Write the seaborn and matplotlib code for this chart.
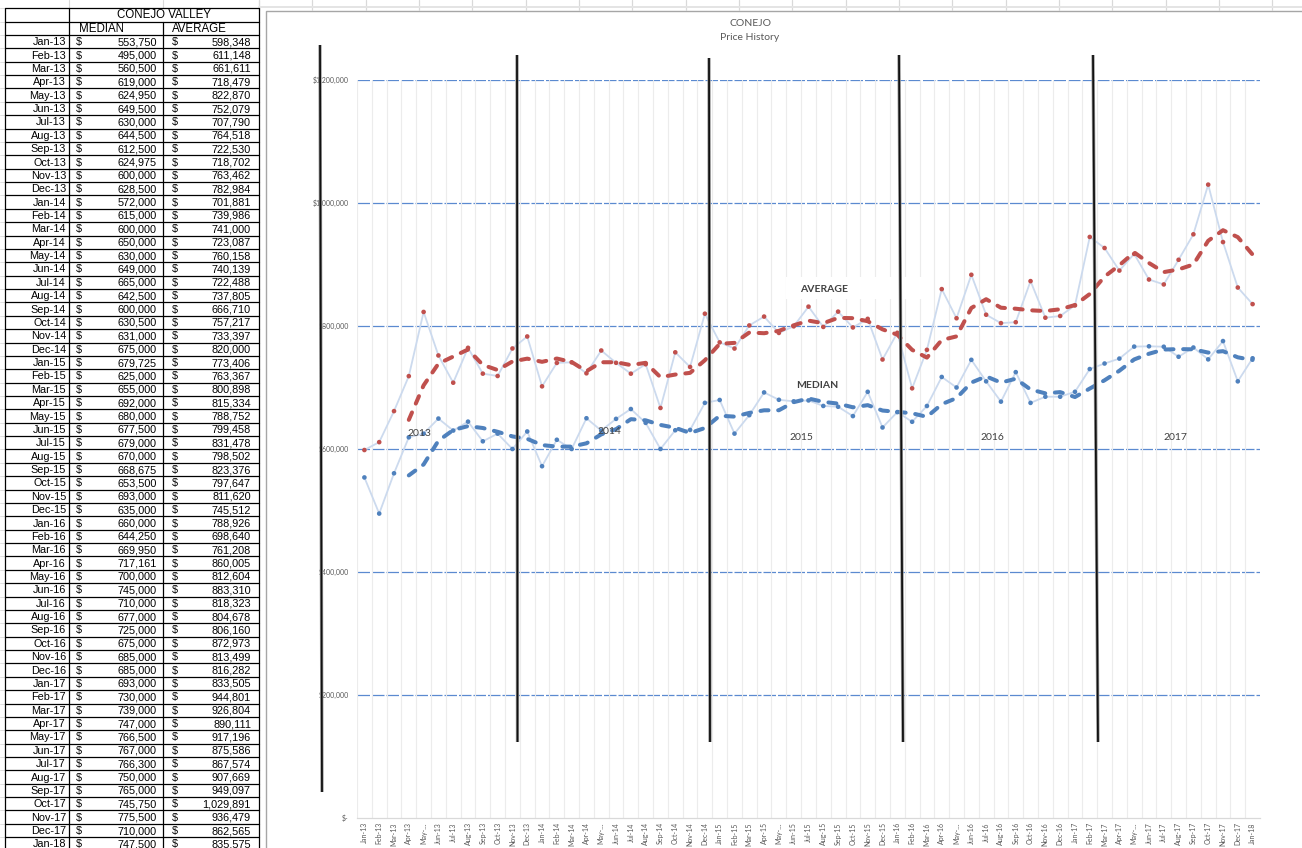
import numpy as np
import pandas as pd
import matplotlib
matplotlib.use("Agg")
import matplotlib.pyplot as plt
from matplotlib.patches import Rectangle
import seaborn as sns

# ---- data -------------------------------------------------------------
months = [
    "Jan-13", "Feb-13", "Mar-13", "Apr-13", "May-13", "Jun-13", "Jul-13", "Aug-13", "Sep-13", "Oct-13", "Nov-13", "Dec-13",
    "Jan-14", "Feb-14", "Mar-14", "Apr-14", "May-14", "Jun-14", "Jul-14", "Aug-14", "Sep-14", "Oct-14", "Nov-14", "Dec-14",
    "Jan-15", "Feb-15", "Mar-15", "Apr-15", "May-15", "Jun-15", "Jul-15", "Aug-15", "Sep-15", "Oct-15", "Nov-15", "Dec-15",
    "Jan-16", "Feb-16", "Mar-16", "Apr-16", "May-16", "Jun-16", "Jul-16", "Aug-16", "Sep-16", "Oct-16", "Nov-16", "Dec-16",
    "Jan-17", "Feb-17", "Mar-17", "Apr-17", "May-17", "Jun-17", "Jul-17", "Aug-17", "Sep-17", "Oct-17", "Nov-17", "Dec-17",
    "Jan-18",
]

median = [
    553750, 495000, 560500, 619000, 624950, 649500, 630000, 644500, 612500, 624975, 600000, 628500,
    572000, 615000, 600000, 650000, 630000, 649000, 665000, 642500, 600000, 630500, 631000, 675000,
    679725, 625000, 655000, 692000, 680000, 677500, 679000, 670000, 668675, 653500, 693000, 635000,
    660000, 644250, 669950, 717161, 700000, 745000, 710000, 677000, 725000, 675000, 685000, 685000,
    693000, 730000, 739000, 747000, 766500, 767000, 766300, 750000, 765000, 745750, 775500, 710000,
    747500,
]

average = [
    598348, 611148, 661611, 718479, 822870, 752079, 707790, 764518, 722530, 718702, 763462, 782984,
    701881, 739986, 741000, 723087, 760158, 740139, 722488, 737805, 666710, 757217, 733397, 820000,
    773406, 763367, 800898, 815334, 788752, 799458, 831478, 798502, 823376, 797647, 811620, 745512,
    788926, 698640, 761208, 860005, 812604, 883310, 818323, 804678, 806160, 872973, 813499, 816282,
    833505, 944801, 926804, 890111, 917196, 875586, 867574, 907669, 949097, 1029891, 936479, 862565,
    835575,
]

y_ticks = [0, 200000, 400000, 600000, 800000, 1000000, 1200000]
y_labels = ["$-", "$200,000", "$400,000", "$600,000", "$800,000", "$1,000,000", "$1,200,000"]
axis_labels = [m if not m.startswith("May") else "May-\u2026" for m in months]
year_labels = ["2013", "2014", "2015", "2016", "2017"]

# ---- figure ------------------------------------------------------------
W, H = 1302, 848
sns.set_style("white")
plt.rcParams["font.family"] = ["Lato", "DejaVu Sans"]

fig = plt.figure(figsize=(W / 100, H / 100), dpi=100)
fig.patch.set_facecolor("white")

# pixel-coordinate layers behind and in front of the chart
bg = fig.add_axes([0, 0, 1, 1], zorder=0)
bg.set_xlim(0, W)
bg.set_ylim(H, 0)
bg.axis("off")

fg = fig.add_axes([0, 0, 1, 1], zorder=3)
fg.set_xlim(0, W)
fg.set_ylim(H, 0)
fg.axis("off")
fg.patch.set_alpha(0)

# ---- worksheet grid ------------------------------------------------------
faint = "#d9d9d9"
for x in (69, 163, 259):
    bg.plot([x, x], [0, 8], color=faint, lw=0.8)
col_x = 259 + 53.33 * np.arange(0, 20)
for x in col_x:
    if x < W:
        bg.plot([x, x], [0, 10], color=faint, lw=0.9)
bg.plot([259, W], [6.5, 6.5], color="#e4e4e4", lw=1.4)

# chart area frame
bg.add_patch(Rectangle((265.5, 10.5), W, H, facecolor="white", edgecolor="#a6a6a6", lw=1.0))

# ---- table ------------------------------------------------------------
tbl_font = ["Liberation Sans", "DejaVu Sans"]
row_h = 13.37
top0, hdr1, hdr2 = 8, 21.5, 35
left, c1, c2, right = 5, 69, 163, 259
n_rows = len(months)
row_edges = [top0, hdr1, hdr2] + [hdr2 + row_h * (i + 1) for i in range(n_rows)]
for i, y in enumerate(row_edges):
    bg.plot([left, right], [y, y], color="black", lw=0.9)
    bg.plot([0, left], [y, y], color=faint, lw=0.6)
bottom = row_edges[-1]
for x in (left, c1, right):
    bg.plot([x, x], [top0, bottom], color="black", lw=0.9)
bg.plot([c2, c2], [hdr1, bottom], color="black", lw=0.9)

tkw = dict(family=tbl_font, fontsize=7.8, color="black", va="center")
hkw = dict(family=tbl_font, fontsize=8.3, color="black", va="center")
bg.text((c1 + right) / 2, (top0 + hdr1) / 2 + 0.5, "CONEJO VALLEY", ha="center", **hkw)
bg.text(79, (hdr1 + hdr2) / 2 + 0.5, "MEDIAN", ha="left", **hkw)
bg.text(172, (hdr1 + hdr2) / 2 + 0.5, "AVERAGE", ha="left", **hkw)
for i, (m, md, av) in enumerate(zip(months, median, average)):
    yc = hdr2 + row_h * (i + 0.5) + 0.5
    bg.text(66, yc, m, ha="right", **tkw)
    bg.text(76, yc, "$", ha="left", **tkw)
    bg.text(157, yc, f"{md:,}", ha="right", **tkw)
    bg.text(172, yc, "$", ha="left", **tkw)
    bg.text(251, yc, f"{av:,}", ha="right", **tkw)

# ---- chart ------------------------------------------------------------
ax_left, ax_right, ax_top, ax_bottom = 357, 1260, 80, 818
ax = fig.add_axes([ax_left / W, (H - ax_bottom) / H,
                   (ax_right - ax_left) / W, (ax_bottom - ax_top) / H], zorder=1)
ax.patch.set_alpha(0)

df = pd.DataFrame({"idx": np.arange(n_rows), "month": months,
                   "median": median, "average": average})
df["median_trend"] = df["median"].rolling(4).mean()
df["average_trend"] = df["average"].rolling(4).mean()

red = "#c0504d"
blue = "#4f81bd"
pale = "#ccdaee"

ax.set_xlim(-0.5, n_rows - 0.5)
ax.set_ylim(0, 1200000)
ax.set_axisbelow(True)

# grid: light category separators and dashed blue value lines
ax.set_xticks(np.arange(n_rows) - 0.5, minor=True)
ax.grid(which="minor", axis="x", color="#ececec", lw=0.8)
for yv in y_ticks[1:]:
    ax.axhline(yv, color="#5b8ad0", lw=0.9, linestyle=(0, (10, 1.6)), zorder=0.5)

# thin connecting lines
sns.lineplot(data=df, x="idx", y="average", color=pale, lw=1.3, ax=ax, zorder=2)
sns.lineplot(data=df, x="idx", y="median", color=pale, lw=1.3, ax=ax, zorder=2)
# data points
sns.scatterplot(data=df, x="idx", y="average", color=red, s=11, edgecolor="none", ax=ax, zorder=3)
sns.scatterplot(data=df, x="idx", y="median", color=blue, s=11, edgecolor="none", ax=ax, zorder=3)
# 4-month moving-average trends
dash = (0, (2.0, 2.4))
sns.lineplot(data=df, x="idx", y="average_trend", color=red, lw=2.9, linestyle=dash,
             dash_capstyle="round", ax=ax, zorder=4)
sns.lineplot(data=df, x="idx", y="median_trend", color=blue, lw=2.9, linestyle=dash,
             dash_capstyle="round", ax=ax, zorder=4)

ax.set_xticks(np.arange(n_rows))
ax.set_xticklabels(axis_labels, rotation=90, fontsize=5, color="#595959")
ax.set_yticks(y_ticks)
ax.set_yticklabels(y_labels, fontsize=5, color="#595959")
ax.tick_params(axis="x", which="major", length=0, pad=3)
ax.tick_params(axis="x", which="minor", length=4, color="#d9d9d9", width=0.8)
ax.tick_params(axis="y", length=0, pad=6)
ax.set_xlabel("")
ax.set_ylabel("")
for side in ("top", "right", "left"):
    ax.spines[side].set_visible(False)
ax.spines["bottom"].set_color("#d9d9d9")
ax.spines["bottom"].set_linewidth(0.9)
ax.spines["bottom"].set_zorder(1)

# ---- titles and annotations -------------------------------------------
fg.text(750, 23, "CONEJO", ha="center", va="center", fontsize=7.5, color="#595959")
fg.text(750, 38, "Price History", ha="center", va="center", fontsize=7.5, color="#595959")

# year separators
separators = [(320, 45, 322, 792), (517, 55, 517.5, 742), (709, 58, 710, 742),
              (899, 55, 903, 742), (1093, 55, 1098, 742)]
for x0, y0, x1, y1 in separators:
    fg.plot([x0, x1], [y0, y1], color="#9a9a9a", lw=2.4, solid_capstyle="butt")
    fg.plot([x0, x1], [y0, y1], color="#111111", lw=1.3, solid_capstyle="butt")

year_pos = [(419, 433), (609, 432), (801, 437), (992, 437), (1175, 437)]
for lbl, (x, y) in zip(year_labels, year_pos):
    fg.text(x, y, lbl, ha="center", va="center", fontsize=7.5, color="#404040")

fg.add_patch(Rectangle((786, 277), 136, 22, facecolor="white", edgecolor="none"))
fg.text(824, 290, "AVERAGE", ha="center", va="center", fontsize=7.5,
        fontweight="bold", color="#404040")
fg.text(817, 385, "MEDIAN", ha="center", va="center", fontsize=7.5,
        fontweight="bold", color="#404040")

fig.savefig("out.png", dpi=100)
